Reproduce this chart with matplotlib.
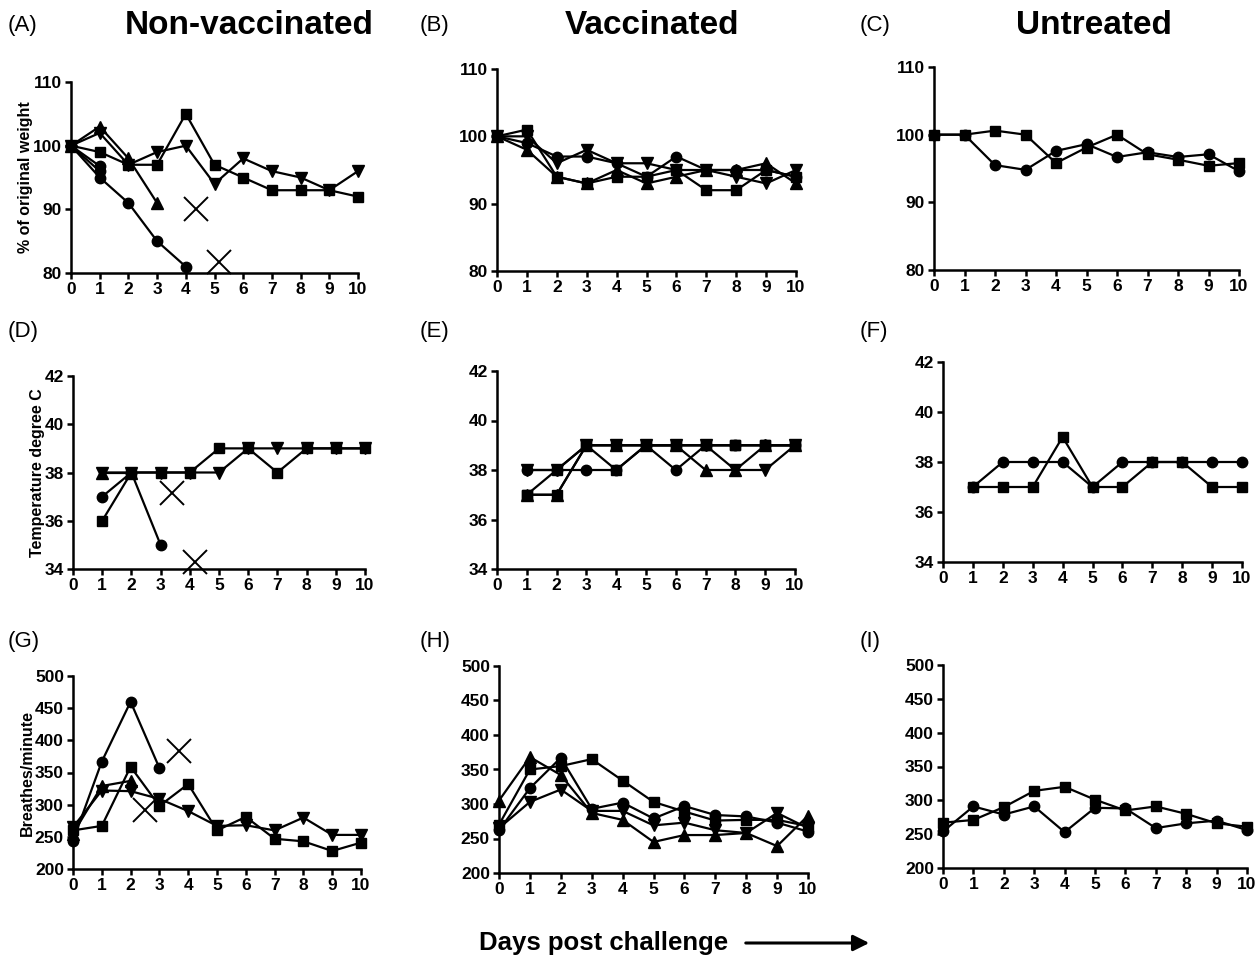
import numpy as np
import matplotlib
matplotlib.use('Agg')
import matplotlib.pyplot as plt

plt.rcParams['font.family'] = ['Liberation Sans', 'DejaVu Sans']
plt.rcParams['font.weight'] = 'bold'

nan = np.nan
days = np.arange(0, 11)

# weight, % of original
wt_nonvac = {
    'o':  [100, 95, 91, 85, 81, nan, nan, nan, nan, nan, nan],
    'o2': [100, 96.8, nan, nan, nan, nan, nan, nan, nan, nan, nan],
    'o3': [100, 96.0, nan, nan, nan, nan, nan, nan, nan, nan, nan],
    's':  [100, 99, 97, 97, 105, 97, 95, 93, 93, 93, 92],
    '^':  [100, 103, 98, 91, nan, nan, nan, nan, nan, nan, nan],
    'v':  [100, 102, 97, 99, 100, 94, 98, 96, 95, 93, 96],
}
wt_vac = {
    'o': [100, 99, 97, 97, 96, 94, 97, 95, 95, 95, 94],
    'v': [100, 100, 96, 98, 96, 96, 95, 95, 94, 93, 95],
    's': [100, 101, 94, 93, 94, 94, 95, 92, 92, 95, 94],
    '^': [100, 98, 94, 93, 95, 93, 94, 95, 95, 96, 93],
}
wt_untr = {
    'o': [100, 100, 95.5, 94.8, 97.6, 98.6, 96.7, 97.4, 96.7, 97.1, 94.6],
    's': [100, 100, 100.6, 100, 95.8, 98.1, 100, 97.1, 96.3, 95.4, 95.8],
}

# temperature, degree C
tp_nonvac = {
    'o': [nan, 37, 38, 35, nan, nan, nan, nan, nan, nan, nan],
    '^': [nan, 38, 38, nan, nan, nan, nan, nan, nan, nan, nan],
    'v': [nan, 38, 38, 38, 38, 38, 39, 39, 39, 39, 39],
    's': [nan, 36, 38, 38, 38, 39, 39, 38, 39, 39, 39],
}
tp_vac = {
    'o':  [nan, 38, 38, 38, 38, 39, 38, 39, 39, 39, 39],
    '^':  [nan, 37, 37, 39, 39, 39, 39, 38, 38, 39, 39],
    'v':  [nan, 38, 38, 39, 39, 39, 39, 39, 38, 38, 39],
    's':  [nan, 37, 38, 39, 38, 39, 39, 39, 39, 39, 39],
    's2': [nan, 37, 37, 39, 39, 39, 39, 39, 39, 39, 39],
}
tp_untr = {
    'o': [nan, 37, 38, 38, 38, 37, 38, 38, 38, 38, 38],
    's': [nan, 37, 37, 37, 39, 37, 37, 38, 38, 37, 37],
}

# breathing rate
br_nonvac = {
    'o': [244, 367, 460, 357, nan, nan, nan, nan, nan, nan, nan],
    '^': [255, 329, 337, nan, nan, nan, nan, nan, nan, nan, nan],
    'v': [265, 322, 321, 309, 290, 267, 268, 260, 280, 253, 253],
    's': [260, 267, 359, 298, 332, 260, 281, 247, 243, 228, 241],
}
br_vac = {
    '^': [305, 368, 342, 287, 277, 245, 255, 255, 258, 239, 283],
    's': [270, 350, 355, 365, 334, 303, 289, 276, 277, 277, 268],
    'o': [262, 323, 367, 293, 302, 279, 297, 284, 282, 273, 260],
    'v': [265, 303, 321, 290, 290, 269, 273, 262, 258, 287, 265],
}
br_untr = {
    'o': [254, 291, 279, 291, 253, 289, 288, 259, 266, 270, 256],
    's': [267, 271, 290, 314, 320, 301, 285, 291, 280, 266, 261],
}

# deaths (day, value)
dead_wt = [(4.35, 90.0), (5.17, 81.8)]
dead_tp = [(3.39, 37.15), (4.17, 34.3)]
dead_br = [(2.5, 292), (3.68, 384)]

W, H = 1260, 957
fig = plt.figure(figsize=(W / 100, H / 100), dpi=100)


def box(x0, x1, y0, y1):
    return [x0 / W, 1 - y1 / H, (x1 - x0) / W, (y1 - y0) / H]


def panel(rect, series, ylim, yticks, dead=None, ylabel=None):
    ax = fig.add_axes(box(*rect))
    for key, vals in series.items():
        m = key[0]
        ms = 7.5 if m in 'os' else 8
        ax.plot(days, vals, color='black', lw=1.6, marker=m, ms=ms,
                clip_on=False, zorder=3)
    if dead:
        for x, y in dead:
            ax.plot(x, y, marker='x', color='black', ms=17, mew=1.4,
                    clip_on=False, zorder=4)
    ax.set_xlim(0, 10)
    ax.set_ylim(*ylim)
    ax.set_xticks(range(0, 11))
    ax.set_yticks(yticks)
    for s in ['top', 'right']:
        ax.spines[s].set_visible(False)
    for s in ['left', 'bottom']:
        ax.spines[s].set_linewidth(1.8)
    ax.tick_params(width=1.8, length=4.5, labelsize=12.5, pad=2)
    for lab in ax.get_xticklabels() + ax.get_yticklabels():
        lab.set_fontweight('bold')
    if ylabel:
        ax.set_ylabel(ylabel, fontsize=11.5, fontweight='bold', labelpad=0)
    return ax


panel((71, 358, 82, 273), wt_nonvac, (80, 110), [80, 90, 100, 110],
      dead_wt, '% of original weight')
panel((497, 796, 69, 271), wt_vac, (80, 110), [80, 90, 100, 110])
panel((934, 1239, 67, 270), wt_untr, (80, 110), [80, 90, 100, 110])

panel((73, 365, 376, 569), tp_nonvac, (34, 42), [34, 36, 38, 40, 42],
      dead_tp, 'Temperature degree C')
panel((497, 795, 371, 569), tp_vac, (34, 42), [34, 36, 38, 40, 42])
panel((943, 1242, 362, 562), tp_untr, (34, 42), [34, 36, 38, 40, 42])

br_ticks = [200, 250, 300, 350, 400, 450, 500]
panel((73, 361, 676, 869), br_nonvac, (200, 500), br_ticks,
      dead_br, 'Breathes/minute')
panel((499, 808, 666, 873), br_vac, (200, 500), br_ticks)
panel((943, 1247, 665, 868), br_untr, (200, 500), br_ticks)

# panel letters
letters = [('(A)', 8, 25), ('(B)', 420, 25), ('(C)', 860, 25),
           ('(D)', 8, 332), ('(E)', 420, 332), ('(F)', 860, 332),
           ('(G)', 8, 642), ('(H)', 420, 642), ('(I)', 860, 642)]
for txt, x, y in letters:
    fig.text(x / W, 1 - y / H, txt, fontsize=16, fontweight='normal',
             va='center', ha='left')

# column headings
heads = [('Non-vaccinated', 249), ('Vaccinated', 652), ('Untreated', 1094)]
for txt, x in heads:
    fig.text(x / W, 1 - 26 / H, txt, fontsize=24, fontweight='bold',
             va='center', ha='center')

fig.text(604 / W, 1 - 943 / H, 'Days post challenge', fontsize=18.5,
         fontweight='bold', va='center', ha='center')
fig.add_artist(matplotlib.patches.FancyArrowPatch(
    (743 / W, 1 - 943 / H), (872 / W, 1 - 943 / H),
    transform=fig.transFigure, arrowstyle='-|>', mutation_scale=24,
    lw=2.2, color='black'))

fig.savefig('out.png', dpi=100)
